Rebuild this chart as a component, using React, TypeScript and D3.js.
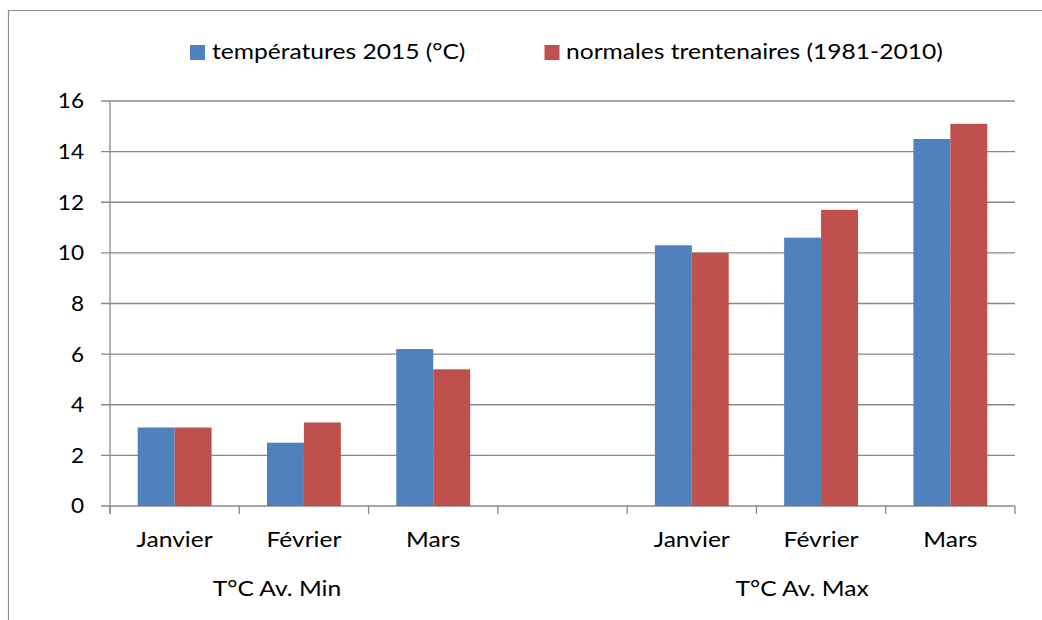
import React from "react";
import * as d3 from "d3";

const groups = ["T°C Av. Min", "", "T°C Av. Max"];
const categories = ["Janvier", "Février", "Mars", "", "Janvier", "Février", "Mars"];
const series2015 = [3.1, 2.5, 6.2, null, 10.3, 10.6, 14.5];
const seriesNormales = [3.1, 3.3, 5.4, null, 10.0, 11.7, 15.1];
const seriesNames = ["températures 2015 (°C)", "normales trentenaires (1981-2010)"];
const yTicks = [0, 2, 4, 6, 8, 10, 12, 14, 16];

const COLORS = ["#4F81BD", "#C0504D"];
const FONT = "Lato, 'Open Sans', sans-serif";
const SX = 1.2;
const FS = 20.5;

function Label(props: { x: number; y: number; anchor?: string; dy?: string; children: React.ReactNode; sx?: number }) {
  const { x, y, anchor = "start", dy, children, sx = SX } = props;
  return (
    <text transform={`translate(${x},${y}) scale(${sx},1)`} textAnchor={anchor} dy={dy} fontSize={FS} fill="#000">
      {children}
    </text>
  );
}

export default function App() {
  const W = 1042, H = 620;
  const left = 110, right = 1015, top = 101, bottom = 506;
  const x = d3.scaleBand<number>().domain(d3.range(categories.length)).range([left, right]).paddingInner(0).paddingOuter(0);
  const y = d3.scaleLinear().domain([0, 16]).range([bottom, top]);
  const bw = x.bandwidth() / 3.5;
  const seriesList = [series2015, seriesNormales];
  const gridColor = "#888888";

  return (
    <svg width={W} height={H} style={{ position: "absolute", left: 0, top: 0 }} fontFamily={FONT}>
      <rect x={0} y={0} width={W} height={H} fill="#fff" />
      <path d={`M8.5,${H} V10.5 H${W}`} fill="none" stroke="#8c8c8c" strokeWidth={1.2} />
      {yTicks.map((t) => (
        <g key={t}>
          <line x1={101} x2={right} y1={y(t)} y2={y(t)} stroke={gridColor} strokeWidth={t === 0 ? 1.6 : 1.3} />
          <Label x={84} y={y(t)} anchor="end" dy="0.36em" sx={1.1}>{t}</Label>
        </g>
      ))}
      <line x1={left} x2={left} y1={top} y2={bottom + 8} stroke={gridColor} strokeWidth={1.3} />
      {d3.range(categories.length + 1).map((i) => {
        const xx = i < categories.length ? (x(i) as number) : right;
        return <line key={i} x1={xx} x2={xx} y1={bottom} y2={bottom + 8} stroke={gridColor} strokeWidth={1.3} />;
      })}
      {seriesList.map((s, si) =>
        s.map((v, i) =>
          v == null ? null : (
            <rect key={`${si}-${i}`} x={(x(i) as number) + bw * 0.75 + si * bw} y={y(v)} width={bw} height={bottom - y(v)} fill={COLORS[si]} />
          )
        )
      )}
      {categories.map((c, i) => (
        <Label key={i} x={(x(i) as number) + x.bandwidth() / 2} y={547} anchor="middle">{c}</Label>
      ))}
      {groups.map((g, gi) => {
        if (!g) return null;
        const start = x(gi === 0 ? 0 : 4) as number;
        const end = start + 3 * x.bandwidth();
        const offset = gi === 0 ? -27 : -19;
        return (
          <Label key={gi} x={(start + end) / 2 + offset} y={596} anchor="middle">{g}</Label>
        );
      })}
      <rect x={190} y={45} width={15} height={15} fill={COLORS[0]} />
      <Label x={212} y={59}>{seriesNames[0]}</Label>
      <rect x={544.5} y={45} width={15} height={15} fill={COLORS[1]} />
      <Label x={566} y={59}>{seriesNames[1]}</Label>
    </svg>
  );
}
